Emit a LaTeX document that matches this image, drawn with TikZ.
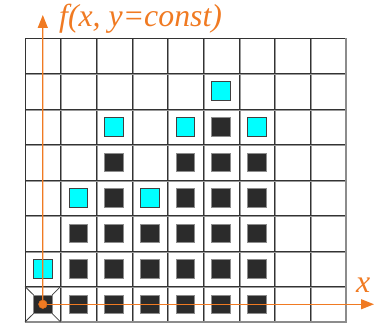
\documentclass[tikz,border=0pt]{standalone}
\usepackage{fontspec}
\setmainfont{Liberation Serif}
\usetikzlibrary{arrows.meta}
\definecolor{axisorange}{HTML}{F07A22}
\definecolor{cellcyan}{HTML}{00FFFF}
\definecolor{celldark}{HTML}{2B2B2B}
\tikzset{
  darksq/.style={draw=black!45, line width=1pt, fill=celldark, minimum size=18.5pt, inner sep=0pt, outer sep=0pt},
  cyansq/.style={draw=black!75, line width=1pt, fill=cellcyan, minimum size=18.5pt, inner sep=0pt, outer sep=0pt},
  gridline/.style={draw=black!80, line width=0.8pt},
  gridshadow/.style={draw=black!40, line width=1.2pt},
  framing/.style={draw=black!45, line width=2pt},
  bevel/.style={draw=black!75, line width=0.8pt},
  axisline/.style={draw=axisorange, line width=1.3pt, -{Triangle[length=13pt,width=10pt]}},
  origindot/.style={circle, fill=axisorange, draw=axisorange!80!black, line width=0.3pt, minimum size=8.5pt, inner sep=0pt},
  lbl/.style={text=axisorange, font=\itshape\fontsize{31.8}{32}\selectfont, inner sep=0pt}
}
\begin{document}
\begin{tikzpicture}[x=1pt,y=1pt]
\useasboundingbox (0,0) rectangle (383,330);
% grid
\foreach \i in {1,...,8} {
  \draw[gridshadow] ({25+\i*35.667+1.2},8) -- ++(0,284);
  \draw[gridline] ({25+\i*35.667},8) -- ++(0,284);
}
\foreach \j in {1,...,7} {
  \draw[gridshadow] (25,{8+\j*35.5-1.2}) -- ++(321,0);
  \draw[gridline] (25,{8+\j*35.5}) -- ++(321,0);
}
\draw[gridline] (25,292) -- (346,292);
\draw[gridline] (25,8) -- (25,292);
\draw[framing] (346,7) -- (346,292);
\draw[framing] (25,8) -- (347,8);
% dark cells
\foreach \i/\j in {0/0,1/0,2/0,3/0,4/0,5/0,6/0,
                   1/1,2/1,3/1,4/1,5/1,6/1,
                   1/2,2/2,3/2,4/2,5/2,6/2,
                   2/3,4/3,5/3,6/3,
                   2/4,4/4,5/4,6/4,
                   5/5}
  \node[darksq] (d-\i-\j) at ({25+(\i+0.5)*35.667},{8+(\j+0.5)*35.5}) {};
% cyan cells
\foreach \i/\j in {0/1,1/3,3/3,2/5,4/5,6/5,5/6}
  \node[cyansq] (c-\i-\j) at ({25+(\i+0.5)*35.667},{8+(\j+0.5)*35.5}) {};
% bevel of origin cell
\draw[bevel] (25,8) -- (d-0-0.south west);
\draw[bevel] (60.667,8) -- (d-0-0.south east);
\draw[bevel] (25,43.5) -- (d-0-0.north west);
\draw[bevel] (60.667,43.5) -- (d-0-0.north east);
% axes
\node[origindot] (o) at (d-0-0.center) {};
\coordinate (yend) at (42.8,315);
\coordinate (xend) at (374,25.75);
\draw[axisline] (o.center) -- (yend);
\draw[axisline] (o.center) -- (xend);
\node[origindot] at (o.center) {};
\node[lbl, anchor=base west] (fl) at (59,303) {f(x, y=const)};
\node[lbl, anchor=base west] (xl) at (356,38) {x};
\end{tikzpicture}
\end{document}
